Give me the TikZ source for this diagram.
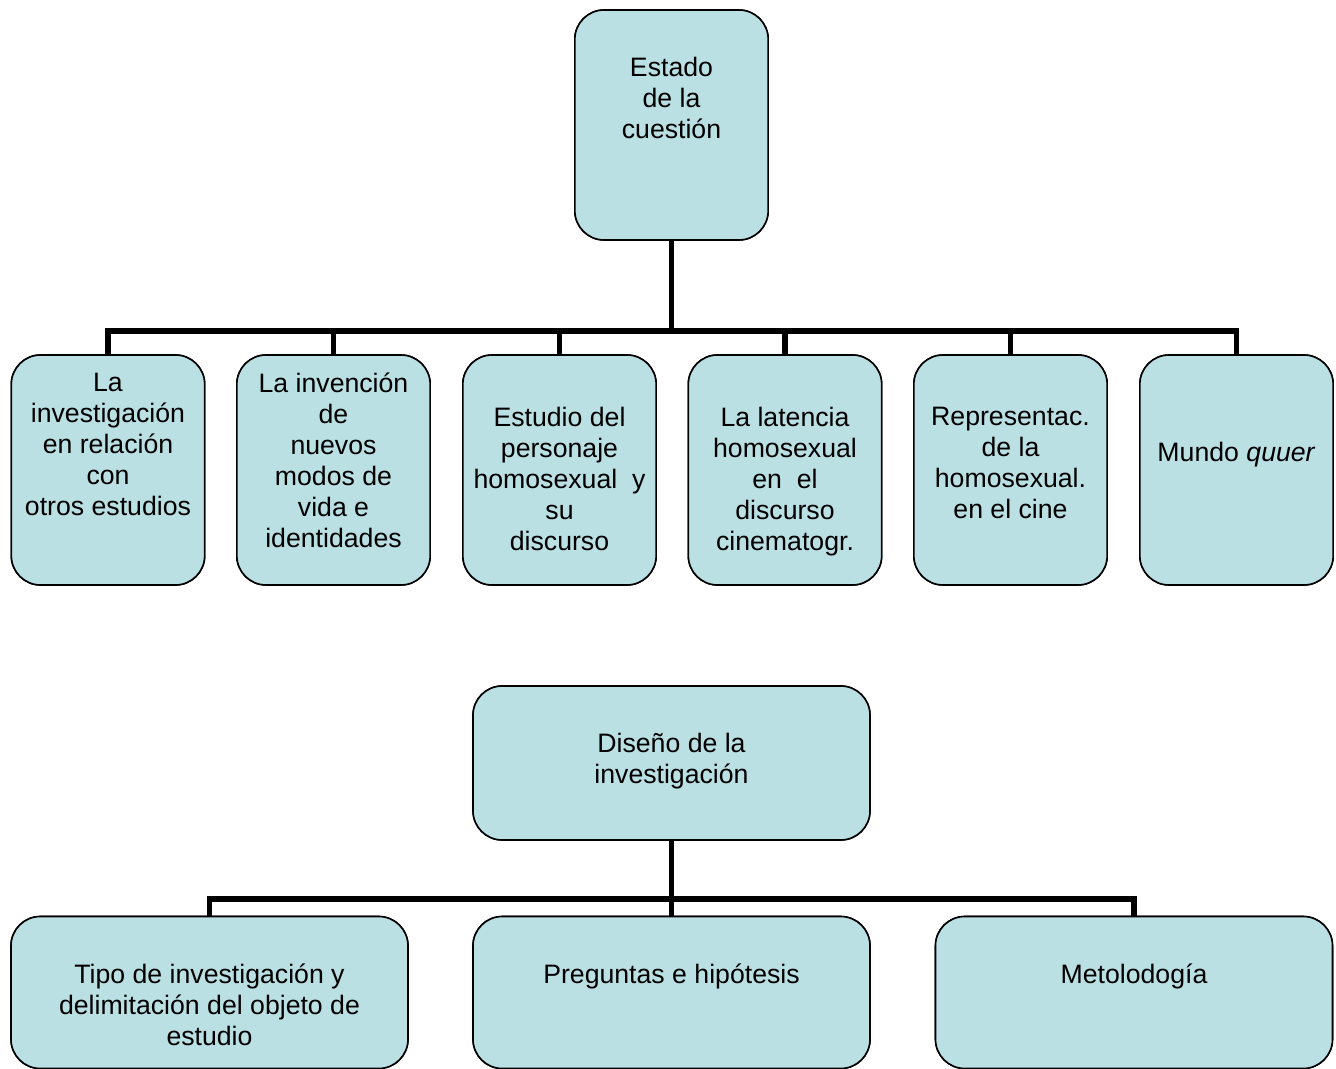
\documentclass[tikz,border=0pt]{standalone}
\usepackage{fontspec}
\setmainfont{Liberation Sans}
\usetikzlibrary{positioning}
\definecolor{boxfill}{RGB}{186,224,228}
\begin{document}
\begin{tikzpicture}[x=0.75pt,y=-0.75pt,
  box/.style={draw, line width=1.2pt, fill=boxfill, rounded corners=22pt, inner sep=0pt},
  tall/.style={box, minimum width=145pt, minimum height=172.5pt},
  wide/.style={box, minimum width=297.75pt, minimum height=114pt},
  txt/.style={inner sep=0pt, align=center, font=\fontsize{20}{23.25}\selectfont},
  conn/.style={line width=4.2pt}]
\useasboundingbox (0,0) rectangle (1336,1069);

\node[tall] (est0) at (671.5,125){};
\node[tall] (est1) at (108,470){};
\node[tall] (est2) at (333.5,470){};
\node[tall] (est3) at (559.5,470){};
\node[tall] (est4) at (785,470){};
\node[tall] (est5) at (1010.5,470){};
\node[tall] (est6) at (1236.5,470){};
\coordinate (hub0) at (671.5,331);
\draw[conn](est0) -- (hub0);
\foreach \i in {1,...,6}
  \draw[conn](est\i.north) |- (hub0);
\node[tall] at (est0){};
\foreach \i in {1,...,6}
  \node[tall] at (est\i){};

\node[txt, below=35.5pt of est0.north] (est0t){Estado\\de la\\cuestión};
\node[txt, below=14pt of est1.north] (est1t){La\\investigación\\en relación\\con\\otros estudios};
\node[txt, below=14pt of est2.north] (est2t){La invención\\de\\nuevos\\modos de\\vida e\\identidades};
\node[txt, below=39.5pt of est3.north] (est3t){Estudio del\\personaje\\homosexual\ \ y\\su\\discurso};
\node[txt, below=39.5pt of est4.north] (est4t){La latencia\\homosexual\\en\ \ el\\discurso\\cinematogr.};
\node[txt, below=39.5pt of est5.north] (est5t){Representac.\\de la\\homosexual.\\en el cine};
\node[txt, below=66pt of est6.north] (est6t){Mundo \textit{quuer}};

\node[wide, minimum height=115.5pt] (dis0) at (671.5,763){};
\node[wide] (dis1) at (209.5,992.5){};
\node[wide] (dis2) at (671.5,992.5){};
\node[wide] (dis3) at (1134,992.5){};
\coordinate (hub1) at (671.5,899);
\draw[conn](dis0) -- (hub1);
\draw[conn](dis1.north) |- (hub1);
\draw[conn](dis2.north) -- (hub1);
\draw[conn](dis3.north) |- (hub1);
\node[wide, minimum height=115.5pt] at (dis0){};
\node[wide] at (dis1){};
\node[wide] at (dis2){};
\node[wide] at (dis3){};

\node[txt, below=35.5pt of dis0.north] (dis0t){Diseño de la\\investigación};
\node[txt, below=36pt of dis1.north] (dis1t){Tipo de investigación y\\delimitación del objeto de\\estudio};
\node[txt, below=36pt of dis2.north] (dis2t){Preguntas e hipótesis};
\node[txt, below=36pt of dis3.north] (dis3t){Metolodogía};

\end{tikzpicture}
\end{document}
